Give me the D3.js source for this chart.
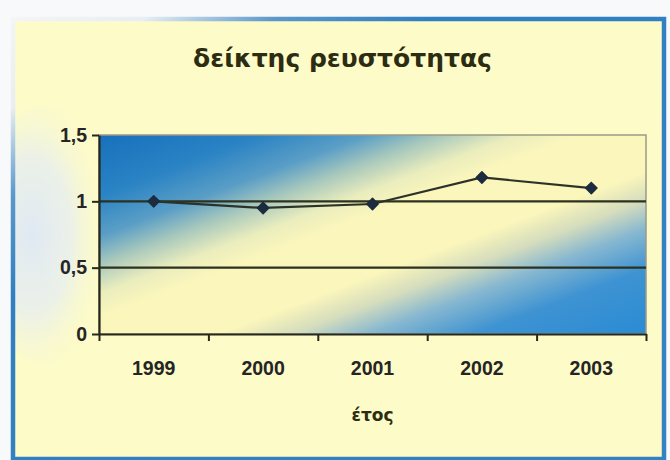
<!DOCTYPE html>
<html>
<head>
<meta charset="utf-8">
<script src="https://cdn.jsdelivr.net/npm/d3@7"></script>
<style>
  html, body { margin: 0; padding: 0; background: #f8f9fa; }
  svg { display: block; }
</style>
</head>
<body>
<svg id="chart" width="670" height="460"></svg>
<script>
// Liquidity ratio by year
const years = ["1999", "2000", "2001", "2002", "2003"];
const liquidity = [1.00, 0.95, 0.98, 1.18, 1.10];
const yTicks = [0, 0.5, 1, 1.5];
const yTickLabels = ["0", "0,5", "1", "1,5"];
const gridValues = [0.5, 1];
const titleText = "δείκτης ρευστότητας";
const xAxisTitle = "έτος";

const frame = { x: 13, y: 19, w: 651, h: 440 };
const plot = { left: 99, right: 646, top: 135, bottom: 334 };

const svg = d3.select("#chart");
const defs = svg.append("defs");

defs.append("clipPath").attr("id", "frameClip")
  .append("rect")
  .attr("x", frame.x).attr("y", frame.y).attr("width", frame.w).attr("height", frame.h);

// Frame border: pale at the top-left, blue elsewhere
const borderGrad = defs.append("linearGradient")
  .attr("id", "borderGrad").attr("x1", 0).attr("y1", 0).attr("x2", 1).attr("y2", 1);
[[0, "#f3f5f7"], [0.1, "#e8eef3"], [0.2, "#5b98cb"], [0.32, "#2f7fc2"], [1, "#3282c4"]]
  .forEach(([o, c]) => borderGrad.append("stop").attr("offset", o).attr("stop-color", c));

// Soft bluish haze behind the value labels
const haze = defs.append("radialGradient")
  .attr("id", "haze").attr("cx", 0.4).attr("cy", 0.5).attr("r", 0.6);
[[0, "#dfe9f3", 1], [0.5, "#e7eef0", 0.8], [1, "#fdfbc8", 0]]
  .forEach(([o, c, a]) => haze.append("stop").attr("offset", o)
    .attr("stop-color", c).attr("stop-opacity", a));

// Plot area: blue corners with a diagonal pale-yellow band
const plotGrad = defs.append("linearGradient")
  .attr("id", "plotGrad").attr("gradientUnits", "userSpaceOnUse")
  .attr("x1", plot.left).attr("y1", plot.top)
  .attr("x2", plot.left + 380 * 0.355).attr("y2", plot.top + 380 * 0.935);
[[0, "#1870bc"], [0.15, "#2a83c4"], [0.25, "#5a9ec6"], [0.32, "#a9c9bc"],
 [0.39, "#eaedbd"], [0.45, "#fbf6bc"], [0.6, "#fbf6bb"], [0.67, "#d5ddbd"],
 [0.74, "#88b8d0"], [0.84, "#3e93d2"], [1, "#2a8bd4"]]
  .forEach(([o, c]) => plotGrad.append("stop").attr("offset", o).attr("stop-color", c));

// Chart area
svg.append("rect")
  .attr("x", frame.x).attr("y", frame.y).attr("width", frame.w).attr("height", frame.h)
  .attr("fill", "#fdfbc8");
svg.append("ellipse")
  .attr("clip-path", "url(#frameClip)")
  .attr("cx", 45).attr("cy", 235).attr("rx", 65).attr("ry", 130)
  .attr("fill", "url(#haze)");
svg.append("rect")
  .attr("x", frame.x).attr("y", frame.y).attr("width", frame.w).attr("height", frame.h)
  .attr("fill", "none").attr("stroke", "url(#borderGrad)").attr("stroke-width", 4.5);

// Scales
const x = d3.scaleBand().domain(years).range([plot.left, plot.right]);
const xEdge = d3.scaleLinear().domain([0, years.length]).range([plot.left, plot.right]);
const y = d3.scaleLinear().domain([0, 1.5]).range([plot.bottom, plot.top]);

// Plot background
svg.append("rect")
  .attr("x", plot.left).attr("y", y(1.5))
  .attr("width", plot.right - plot.left).attr("height", y(0) - y(1.5))
  .attr("fill", "url(#plotGrad)")
  .attr("stroke", "#9a9a86").attr("stroke-width", 1.5);

// Gridlines
svg.append("g").selectAll("line").data(gridValues).join("line")
  .attr("x1", plot.left).attr("x2", plot.right)
  .attr("y1", d => y(d)).attr("y2", d => y(d))
  .attr("stroke", "#2c3120").attr("stroke-width", 2.2);

const labelFont = "Liberation Sans, Arial, sans-serif";

// Y axis
const yAxis = svg.append("g")
  .attr("transform", `translate(${plot.left},0)`)
  .call(d3.axisLeft(y).tickValues(yTicks)
    .tickFormat((d, i) => yTickLabels[i]).tickSize(7).tickSizeOuter(0).tickPadding(5));
yAxis.select(".domain").attr("stroke", "#26281c").attr("stroke-width", 2.2);
yAxis.selectAll(".tick line").attr("stroke", "#26281c").attr("stroke-width", 2);
yAxis.selectAll("text")
  .attr("fill", "#252525").attr("font-family", labelFont)
  .attr("font-weight", "bold").attr("font-size", 19.5);

// X axis: ticks between categories, labels centred on each category
const xTicks = svg.append("g")
  .attr("transform", `translate(0,${plot.bottom})`)
  .call(d3.axisBottom(xEdge).tickValues(d3.range(years.length + 1))
    .tickFormat("").tickSize(7).tickSizeOuter(0));
xTicks.select(".domain").attr("stroke", "#26281c").attr("stroke-width", 2.2);
xTicks.selectAll(".tick line").attr("stroke", "#26281c").attr("stroke-width", 2);

const xLabels = svg.append("g")
  .attr("transform", `translate(0,${plot.bottom})`)
  .call(d3.axisBottom(x).tickSize(0).tickPadding(27));
xLabels.select(".domain").remove();
xLabels.selectAll("text")
  .attr("fill", "#252525").attr("font-family", labelFont)
  .attr("font-weight", "bold").attr("font-size", 19.5);

// Series line and diamond markers
const line = d3.line()
  .x((d, i) => x(years[i]) + x.bandwidth() / 2)
  .y(d => y(d));
svg.append("path")
  .datum(liquidity)
  .attr("d", line)
  .attr("fill", "none").attr("stroke", "#2c3228").attr("stroke-width", 2.2);
svg.append("g").selectAll("path").data(liquidity).join("path")
  .attr("transform", (d, i) =>
    `translate(${x(years[i]) + x.bandwidth() / 2},${y(d)}) rotate(45)`)
  .attr("d", d3.symbol().type(d3.symbolSquare).size(64))
  .attr("fill", "#1c2c3e")
  .attr("stroke", "#1c2c3e").attr("stroke-width", 1.5).attr("stroke-linejoin", "round");

// Titles
svg.append("text")
  .attr("x", frame.x + frame.w / 2 + 4).attr("y", 67)
  .attr("text-anchor", "middle")
  .attr("font-family", "DejaVu Sans, sans-serif").attr("font-weight", "bold")
  .attr("font-size", 25).attr("fill", "#2c2c12")
  .text(titleText);

svg.append("text")
  .attr("x", (plot.left + plot.right) / 2).attr("y", 421)
  .attr("text-anchor", "middle")
  .attr("font-family", "DejaVu Sans, sans-serif").attr("font-weight", "bold")
  .attr("font-size", 17).attr("fill", "#2c2c12")
  .text(xAxisTitle);
</script>
</body>
</html>
